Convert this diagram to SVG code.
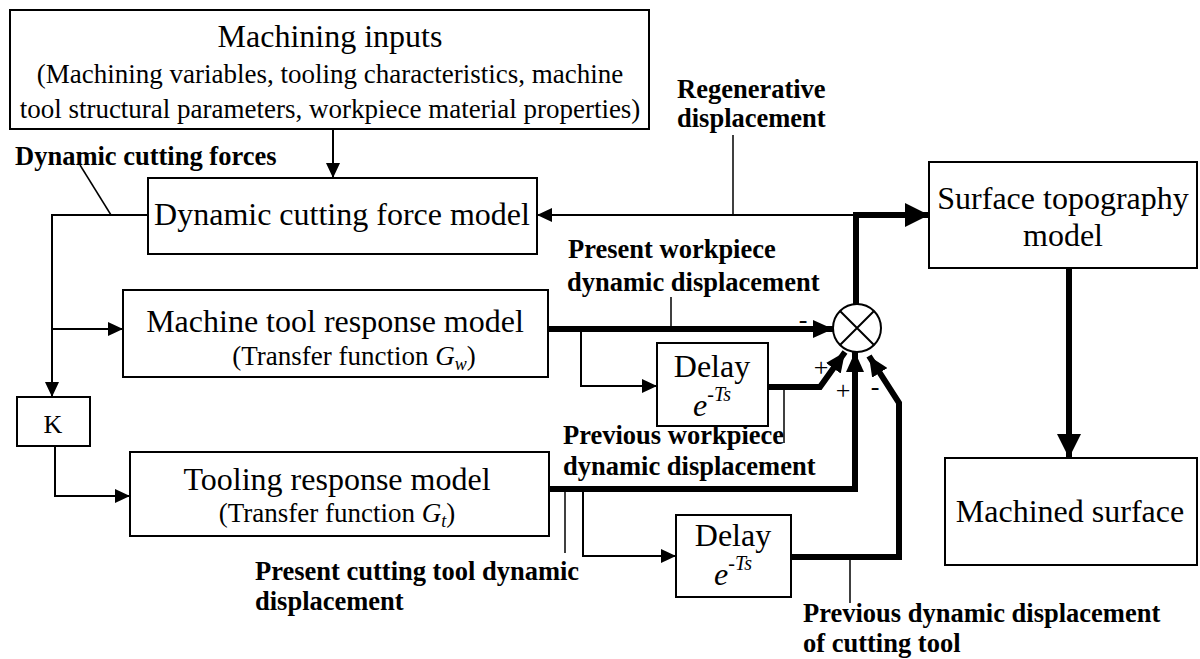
<svg xmlns="http://www.w3.org/2000/svg" width="1200" height="659" viewBox="0 0 1200 659">
  <style>
    .box { fill: #fff; stroke: #000; stroke-width: 2; }
    .thin { fill: none; stroke: #000; stroke-width: 2; }
    .thick { fill: none; stroke: #000; stroke-width: 6; stroke-linejoin: miter; }
    .lead { fill: none; stroke: #000; stroke-width: 1.5; }
    text { font-family: "Liberation Serif", "Times New Roman", serif; fill: #000; }
    .big { font-size: 32px; text-anchor: middle; }
    .sub { font-size: 27px; text-anchor: middle; }
    .lbl { font-size: 26.5px; font-weight: bold; }
    .sign { font-size: 26px; text-anchor: middle; }
  </style>
  <defs>
    <marker id="aThin" markerUnits="userSpaceOnUse" markerWidth="15" markerHeight="14" refX="15" refY="7" orient="auto">
      <path d="M0,0 L15,7 L0,14 z" fill="#000"/>
    </marker>
    <marker id="aThick" markerUnits="userSpaceOnUse" markerWidth="20" markerHeight="18" refX="20" refY="9" orient="auto">
      <path d="M0,0 L20,9 L0,18 z" fill="#000"/>
    </marker>
    <marker id="aBig" markerUnits="userSpaceOnUse" markerWidth="24" markerHeight="24" refX="24" refY="12" orient="auto">
      <path d="M0,0 L24,12 L0,24 z" fill="#000"/>
    </marker>
  </defs>

  <rect width="1200" height="659" fill="#fff"/>

  <!-- connectors -->
  <g id="connectors">
    <!-- inputs to force model -->
    <path class="thin" d="M333,129 V178" marker-end="url(#aThin)"/>
    <!-- force model output: down to K, branch to machine tool model -->
    <path class="thin" d="M148,215 H52 V397" marker-end="url(#aThin)"/>
    <path class="thin" d="M52,329 H123" marker-end="url(#aThin)"/>
    <!-- K to tooling model -->
    <path class="thin" d="M55,446 V496 H130" marker-end="url(#aThin)"/>
    <!-- regenerative feedback to force model -->
    <path class="thin" d="M857,215 H537" marker-end="url(#aThin)"/>
    <!-- junction output to surface topography -->
    <path class="thick" d="M856,304 V215 H929" marker-end="url(#aBig)"/>
    <!-- machine tool output to junction -->
    <path class="thick" d="M548,329 H833" marker-end="url(#aThick)"/>
    <!-- branch to first delay -->
    <path class="thin" d="M581,329 V386 H657" marker-end="url(#aThin)"/>
    <!-- first delay to junction -->
    <path class="thick" d="M768,387 H820 L845,352" marker-end="url(#aThick)"/>
    <!-- tooling output to junction -->
    <path class="thick" d="M549,489 H855 V352" marker-end="url(#aThick)"/>
    <!-- branch to second delay -->
    <path class="thin" d="M583,489 V556 H676" marker-end="url(#aThin)"/>
    <!-- second delay to junction -->
    <path class="thick" d="M791,557 H899 V403 L869,356" marker-end="url(#aThick)"/>
    <!-- surface topography to machined surface -->
    <path class="thick" d="M1069,268 V458" marker-end="url(#aBig)"/>

    <!-- label leaders -->
    <path class="lead" d="M80,165 L111,215"/>
    <path class="lead" d="M733,135 V215"/>
    <path class="lead" d="M671,297 V329"/>
    <path class="lead" d="M784,387 V443"/>
    <path class="lead" d="M565,489 V553"/>
    <path class="lead" d="M850,557 V603"/>
  </g>

  <!-- nodes -->
  <g id="inputs">
    <rect class="box" x="10" y="10" width="639" height="119"/>
    <text class="big" x="330" y="47">Machining inputs</text>
    <text class="sub" x="330" y="83">(Machining variables, tooling characteristics, machine</text>
    <text class="sub" x="330" y="118">tool structural parameters, workpiece material properties)</text>
  </g>

  <g id="force-model">
    <rect class="box" x="148" y="178" width="389" height="76"/>
    <text class="big" x="342" y="225">Dynamic cutting force model</text>
  </g>

  <g id="machine-model">
    <rect class="box" x="123" y="290" width="425" height="87"/>
    <text class="big" x="335" y="332">Machine tool response model</text>
    <text class="sub" x="354" y="365" font-size="26">(Transfer function <tspan font-style="italic">G</tspan><tspan font-style="italic" font-size="18" dy="5">w</tspan><tspan dy="-5">)</tspan></text>
  </g>

  <g id="k-gain">
    <rect class="box" x="17" y="397" width="73" height="49"/>
    <text class="sign" x="53" y="433">K</text>
  </g>

  <g id="tooling-model">
    <rect class="box" x="130" y="452" width="419" height="84"/>
    <text class="big" x="337" y="490">Tooling response model</text>
    <text class="sub" x="337" y="522" font-size="26">(Transfer function <tspan font-style="italic">G</tspan><tspan font-style="italic" font-size="18" dy="5">t</tspan><tspan dy="-5">)</tspan></text>
  </g>

  <g id="delay-workpiece">
    <rect class="box" x="657" y="343" width="111" height="83"/>
    <text class="big" x="712" y="377">Delay</text>
    <text class="big" x="712" y="416"><tspan font-style="italic">e</tspan><tspan font-size="20" dy="-15">-</tspan><tspan font-size="20" font-style="italic">Ts</tspan></text>
  </g>

  <g id="delay-tool">
    <rect class="box" x="676" y="515" width="115" height="82"/>
    <text class="big" x="733" y="546">Delay</text>
    <text class="big" x="733" y="585"><tspan font-style="italic">e</tspan><tspan font-size="20" dy="-15">-</tspan><tspan font-size="20" font-style="italic">Ts</tspan></text>
  </g>

  <g id="junction">
    <circle cx="857" cy="328" r="24" fill="#fff" stroke="#000" stroke-width="2"/>
    <path class="thin" d="M840,311 L874,345 M874,311 L840,345"/>
    <text class="sign" x="803" y="328">-</text>
    <text class="sign" x="821" y="376">+</text>
    <text class="sign" x="843" y="399">+</text>
    <text class="sign" x="875" y="395">-</text>
  </g>

  <g id="surface-model">
    <rect class="box" x="929" y="162" width="268" height="106"/>
    <text class="big" x="1063" y="209">Surface topography</text>
    <text class="big" x="1063" y="246">model</text>
  </g>

  <g id="machined-surface">
    <rect class="box" x="945" y="458" width="252" height="107"/>
    <text class="big" x="1070" y="522">Machined surface</text>
  </g>

  <!-- signal labels -->
  <g id="labels">
    <text class="lbl" x="15" y="165">Dynamic cutting forces</text>
    <text class="lbl" x="677" y="98">Regenerative</text>
    <text class="lbl" x="677" y="127">displacement</text>
    <text class="lbl" x="568" y="258">Present workpiece</text>
    <text class="lbl" x="567" y="291">dynamic displacement</text>
    <text class="lbl" x="563" y="444">Previous workpiece</text>
    <text class="lbl" x="563" y="475">dynamic displacement</text>
    <text class="lbl" x="255" y="580">Present cutting tool dynamic</text>
    <text class="lbl" x="255" y="610">displacement</text>
    <text class="lbl" x="803" y="622">Previous dynamic displacement</text>
    <text class="lbl" x="803" y="652">of cutting tool</text>
  </g>
</svg>
